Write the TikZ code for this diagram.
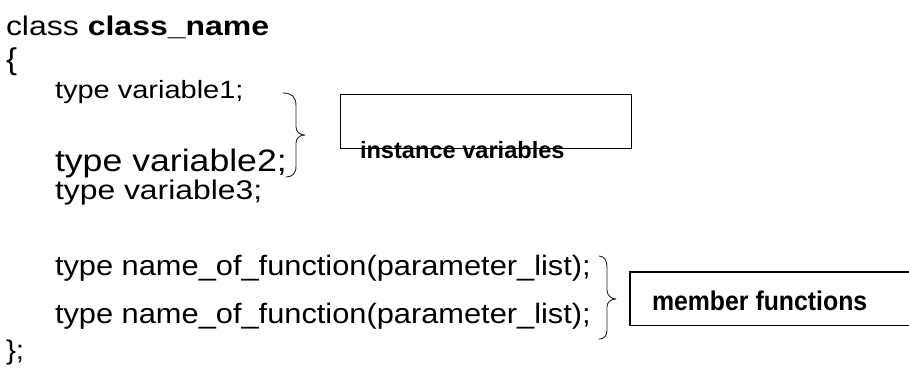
\documentclass[tikz,border=0pt]{standalone}
\usepackage{fontspec}
\usepackage{graphicx}
\setmainfont{Liberation Sans}
% one line of code: font size, horizontal stretch, text
\newcommand{\codeline}[3]{\scalebox{#2}[1]{\fontsize{#1}{#1}\selectfont #3}}
\tikzset{
  code/.style={anchor=base west, inner sep=0pt, outer sep=0pt},
  tag/.style={anchor=base west, inner sep=0pt, outer sep=0pt, font=\bfseries},
  frame/.style={draw=black, line width=1.4pt},
  bracket/.style={draw=black!85, line width=0.9pt, line cap=round, line join=round},
}
\begin{document}
\begin{tikzpicture}[x=1pt, y=-1pt]
  \useasboundingbox (0,0) rectangle (909,367);

  % class declaration
  \node[code] (head) at (6,35) {\codeline{27}{1.185}{class \textbf{class\_name}}};
  \node[code] (open) at (6,69) {\codeline{30}{1.1}{\{}};
  \node[code] (v1) at (55,98) {\codeline{25}{1.16}{type variable1;}};
  \node[code] (v2) at (55,171) {\codeline{31}{1.15}{type variable2;}};
  \node[code] (v3) at (55,199) {\codeline{27}{1.18}{type variable3;}};
  \node[code] (f1) at (55,275) {\codeline{28}{1.1}{type name\_of\_function(parameter\_list);}};
  \node[code] (f2) at (55,323) {\codeline{28}{1.1}{type name\_of\_function(parameter\_list);}};
  \node[code] (close) at (6,359) {\codeline{27}{1.1}{\};}};

  % brace grouping the instance variables
  \draw[bracket] (283,93) .. controls (292,93) and (296,97) .. (296,106)
    -- (296,127) .. controls (296,132) and (300,135) .. (305,135)
    .. controls (300,135) and (296,138) .. (296,143)
    -- (296,166) .. controls (296,174) and (292,177) .. (286,177);

  % brace grouping the member functions
  \draw[bracket] (599,256) .. controls (604,256) and (607,260) .. (607,267)
    -- (607,290) .. controls (607,295) and (611,299) .. (616,299)
    .. controls (611,299) and (607,302) .. (607,307)
    -- (607,330) .. controls (607,336) and (604,339) .. (599,339);

  % boxes
  \node[frame, anchor=north west, minimum width=291pt, minimum height=54pt, inner sep=0pt] (ivbox) at (340,94) {};
  \node[tag] (ivlabel) at (360,158) {\fontsize{23.6}{26}\selectfont instance variables};

  \node[anchor=north west, minimum width=279pt, minimum height=53pt, inner sep=0pt] (mfbox) at (630,272) {};
  \draw[frame] (mfbox.north east) -- (mfbox.north west) -- (mfbox.south west) -- (mfbox.south east);
  \node[tag] (mflabel) at (652,310) {\scalebox{0.92}[1]{\fontsize{27}{29}\selectfont member functions}};
\end{tikzpicture}
\end{document}
